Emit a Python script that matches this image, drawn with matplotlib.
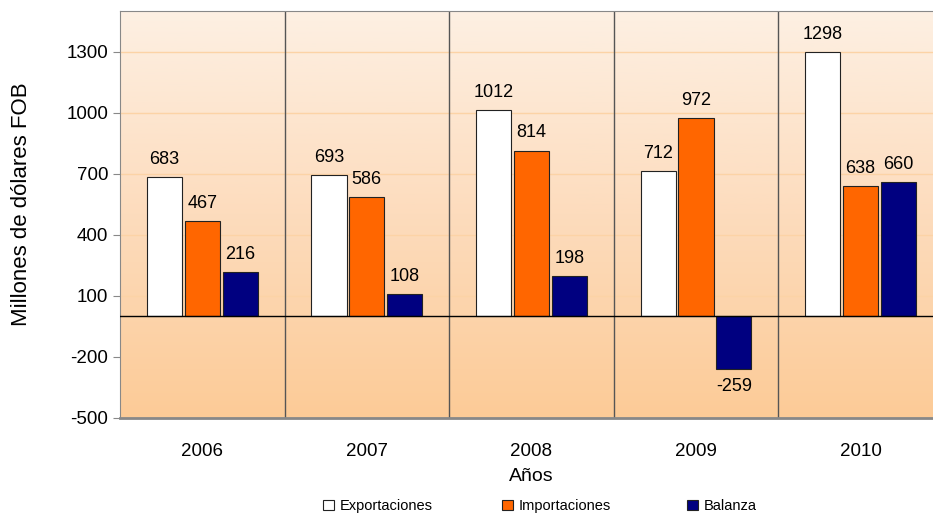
import numpy as np
import matplotlib.pyplot as plt
from matplotlib.colors import LinearSegmentedColormap
from matplotlib.patches import Patch

plt.rcParams['font.family'] = ['Liberation Sans', 'DejaVu Sans']
plt.rcParams['axes.unicode_minus'] = False

# Data
years = ['2006', '2007', '2008', '2009', '2010']
exportaciones = [683, 693, 1012, 712, 1298]
importaciones = [467, 586, 814, 972, 638]
balanza = [216, 108, 198, -259, 660]
series_names = ['Exportaciones', 'Importaciones', 'Balanza']
series_colors = ['#ffffff', '#ff6600', '#000080']

fig = plt.figure(figsize=(9.33, 5.14), dpi=100)
ax = fig.add_axes([0.1286, 0.1868, 0.882, 0.792])

ymin, ymax = -500, 1500
n = len(years)
x = np.arange(n)

# background gradient (light at top, orange at bottom)
grad = np.linspace(0, 1, 256).reshape(-1, 1)
cmap = LinearSegmentedColormap.from_list('bg', ['#fdf0e3', '#fddcbd', '#fccb97'])
ax.imshow(grad, cmap=cmap, aspect='auto', extent=[-0.5, n - 0.5, ymin, ymax],
          origin='upper', zorder=0)

# gridlines
for g in [100, 400, 700, 1000, 1300]:
    ax.axhline(g, color='#fcd3a6', lw=1, zorder=1)
ax.axhline(0, color='black', lw=1, zorder=3)
for b in np.arange(0.5, n - 0.5, 1):
    ax.axvline(b, color='#555555', lw=1, zorder=1)

w = 0.213
step = 0.23
all_series = [exportaciones, importaciones, balanza]
for i, (vals, col) in enumerate(zip(all_series, series_colors)):
    pos = x + (i - 1) * step
    ax.bar(pos, vals, width=w, color=col, edgecolor='#222222', linewidth=0.8, zorder=2)
    for p, v in zip(pos, vals):
        if v >= 0:
            ax.text(p, v + 45, str(v), ha='center', va='bottom', fontsize=13, zorder=4)
        else:
            ax.text(p, v - 45, str(v), ha='center', va='top', fontsize=13, zorder=4)

ax.set_xlim(-0.5, n - 0.5)
ax.set_ylim(ymin, ymax)
ax.set_yticks(np.arange(-500, 1301, 300))
ax.tick_params(axis='y', labelsize=13.5, length=5, color='#888888', direction='out')
ax.set_xticks(x)
ax.set_xticklabels(years)
ax.tick_params(axis='x', labelsize=13.5, length=0, pad=18)
for s in ['left', 'top', 'bottom']:
    ax.spines[s].set_color('#888888')
ax.spines['bottom'].set_linewidth(2)
ax.spines['right'].set_visible(False)

ax.set_ylabel('Millones de dólares FOB', fontsize=16)
ax.yaxis.set_label_coords(-0.107, 0.526)
ax.set_xlabel('Años', fontsize=14, labelpad=6)

# legend entries placed individually
leg_x = [0.346, 0.538, 0.736]
for name, col, lx in zip(series_names, series_colors, leg_x):
    h = Patch(facecolor=col, edgecolor='#222222', linewidth=0.8)
    fig.legend([h], [name], loc='center left', bbox_to_anchor=(lx, 0.0156),
               frameon=False, fontsize=10.5, handlelength=0.75, handleheight=0.75,
               handletextpad=0.4, borderpad=0, borderaxespad=0)

fig.savefig('out.png', dpi=100)
